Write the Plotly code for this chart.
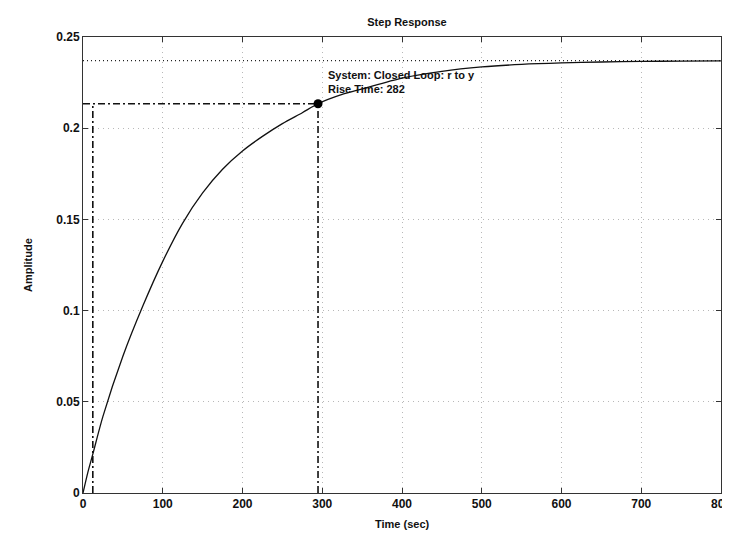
import plotly.graph_objects as go

# Step response samples
time_s = [0, 6, 12.3, 25, 50, 75, 100, 125, 150, 175, 200, 225, 250, 275, 294.7,
          325, 350, 400, 450, 500, 550, 600, 650, 700, 750, 800]
amplitude = [0, 0.0112, 0.0213, 0.042, 0.075, 0.1025, 0.127, 0.148, 0.1645, 0.1775,
             0.1875, 0.1955, 0.2025, 0.2085, 0.2134, 0.2185, 0.2215, 0.2275, 0.2312,
             0.2336, 0.235, 0.2358, 0.2363, 0.2366, 0.2368, 0.2369]

final_value = 0.2370
rise_start_t = 12.3
rise_end_t = 294.7
rise_level = 0.2134
rise_time_label = "282"

x_ticks = [0, 100, 200, 300, 400, 500, 600, 700, 800]
y_ticks = [0, 0.05, 0.1, 0.15, 0.2, 0.25]
y_tick_text = ["0", "0.05", "0.1", "0.15", "0.2", "0.25"]

FONT = "Liberation Sans, Arial, sans-serif"

fig = go.Figure()

# final value dotted line
fig.add_trace(go.Scatter(x=[0, 800], y=[final_value, final_value], mode="lines",
                         line=dict(color="#222", width=1.2, dash="1px,3px"),
                         hoverinfo="skip", showlegend=False))
# rise time dash-dot guides
for xs, ys in (([0, rise_end_t], [rise_level, rise_level]),
               ([rise_start_t, rise_start_t], [0, rise_level]),
               ([rise_end_t, rise_end_t], [0, rise_level])):
    fig.add_trace(go.Scatter(x=xs, y=ys, mode="lines",
                             line=dict(color="#111", width=1.6, dash="7px,3px,2px,3px"),
                             hoverinfo="skip", showlegend=False))
# response curve
fig.add_trace(go.Scatter(x=time_s, y=amplitude, mode="lines",
                         line=dict(color="#111", width=1.3, shape="spline", smoothing=0.8),
                         showlegend=False))
# rise time marker
fig.add_trace(go.Scatter(x=[rise_end_t], y=[rise_level], mode="markers",
                         marker=dict(color="#000", size=9),
                         showlegend=False))

fig.add_annotation(x=rise_end_t, y=rise_level, xref="x", yref="y",
                   text="System: Closed Loop: r to y<br>Rise Time: " + rise_time_label,
                   showarrow=False, xanchor="left", yanchor="bottom",
                   xshift=8, yshift=7, align="left",
                   font=dict(family=FONT, size=11, color="#111", weight="bold"))

fig.add_annotation(x=0.5, y=0, xref="paper", yref="paper", text="Time (sec)",
                   showarrow=False, yshift=-31, yanchor="middle",
                   font=dict(family=FONT, size=11, color="#111", weight="bold"))
fig.add_annotation(x=0, y=0.5, xref="paper", yref="paper", text="Amplitude",
                   showarrow=False, xshift=-55, xanchor="center", textangle=-90,
                   font=dict(family=FONT, size=11, color="#111", weight="bold"))

axis_common = dict(showline=True, linecolor="#333", linewidth=1, mirror="ticks",
                   ticks="inside", ticklen=5, tickcolor="#333",
                   showgrid=True, gridcolor="#b8b8b8", griddash="1px,4px", gridwidth=1,
                   zeroline=False, ticklabeloverflow="allow",
                   tickfont=dict(family=FONT, size=12, color="#111", weight="bold"))

fig.update_xaxes(range=[0, 800], tickvals=x_ticks, **axis_common)
fig.update_yaxes(range=[0, 0.25], tickvals=y_ticks, ticktext=y_tick_text, **axis_common)

fig.update_layout(
    width=730, height=533,
    margin=dict(l=75, r=7, t=29, b=48),
    paper_bgcolor="white", plot_bgcolor="white",
    title=dict(text="Step Response", x=(75 + 324) / 730, xanchor="center", y=1 - 14 / 533,
               yanchor="middle",
               font=dict(family=FONT, size=11, color="#111", weight="bold")),
)

fig.write_html("out.html")
